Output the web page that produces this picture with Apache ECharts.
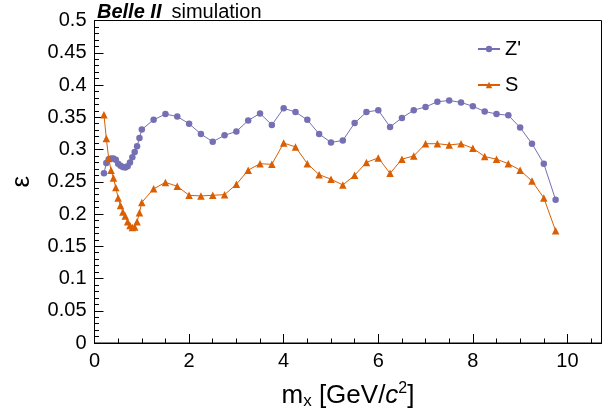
<!DOCTYPE html>
<html>
<head>
<meta charset="utf-8">
<script src="https://cdn.jsdelivr.net/npm/echarts@6/dist/echarts.min.js"></script>
<style>
html,body{margin:0;padding:0;background:#fff;}
#c{width:613px;height:415px;}
</style>
</head>
<body>
<div id="c"></div>
<script>
// Dark-photon / scalar mass points (GeV/c^2)
var masses = [0.2,0.25,0.3,0.35,0.4,0.45,0.5,0.55,0.6,0.65,0.7,0.75,0.8,0.85,0.9,0.95,1.0,
  1.25,1.5,1.75,2.0,2.25,2.5,2.75,3.0,3.25,3.5,3.75,4.0,4.25,4.5,4.75,5.0,5.25,5.5,5.75,
  6.0,6.25,6.5,6.75,7.0,7.25,7.5,7.75,8.0,8.25,8.5,8.75,9.0,9.25,9.5,9.75];
// efficiency for Z'
var effZp = [0.263,0.279,0.285,0.286,0.286,0.284,0.278,0.275,0.273,0.272,0.274,0.280,0.288,0.296,0.305,0.318,0.331,
  0.346,0.355,0.351,0.340,0.324,0.312,0.322,0.328,0.345,0.356,
  0.338,0.364,0.358,0.346,0.324,0.311,0.314,0.341,0.358,0.361,
  0.335,0.349,0.361,0.366,0.374,0.376,0.373,0.367,0.359,0.355,
  0.353,0.334,0.309,0.278,0.222];
// efficiency for S
var effS = [0.354,0.317,0.286,0.268,0.256,0.241,0.225,0.213,0.203,0.197,0.188,0.182,0.179,0.180,0.188,0.202,0.218,
  0.239,0.249,0.243,0.229,0.228,0.229,0.230,0.246,0.268,0.278,
  0.277,0.310,0.304,0.278,0.261,0.254,0.245,0.260,0.280,0.287,
  0.263,0.285,0.290,0.309,0.309,0.307,0.309,0.302,0.289,0.285,
  0.278,0.268,0.251,0.225,0.174];
var seriesNames = ["Z'", "S"];
var xMin = 0, xMax = 10.72, xMajor = 2, xMinor = 0.5;
var yMin = 0, yMax = 0.5, yMajor = 0.05;

var FONT = "'Liberation Sans', Arial, Helvetica, sans-serif";
var cZ = '#7570b3', cS = '#d95f02';

function pairs(xs, ys){ return xs.map(function(x,i){ return [x, ys[i]]; }); }

var chart = echarts.init(document.getElementById('c'), null, {renderer:'canvas'});
chart.setOption({
  animation: false,
  backgroundColor: '#fff',
  textStyle: {fontFamily: FONT, color:'#000'},
  title: {
    left: 92, top: -3,
    text: '{b|Belle II}  {n|simulation}',
    textStyle: {
      fontWeight: 'normal',
      rich: {
        b: {fontFamily: FONT, fontSize: 20, fontWeight: 'bold', fontStyle: 'italic', color:'#000'},
        n: {fontFamily: FONT, fontSize: 20, fontWeight: 'normal', color:'#000'}
      }
    }
  },
  grid: {left: 94.5, right: 11.5, top: 20.5, bottom: 71, show: true, borderColor: '#000', borderWidth: 1, backgroundColor: 'transparent'},
  legend: [
    {data: [seriesNames[0]], left: 472, top: 34, orient: 'vertical', itemWidth: 22, itemHeight: 8,
     textStyle: {fontFamily: FONT, fontSize: 20, color:'#000'}},
    {data: [seriesNames[1]], left: 472, top: 70, orient: 'vertical', itemWidth: 22, itemHeight: 8,
     textStyle: {fontFamily: FONT, fontSize: 20, color:'#000'}}
  ],
  xAxis: [
    {
      type: 'value', position: 'bottom', min: xMin, max: xMax, interval: xMajor,
      name: '{m|m}{s|x}{m| [GeV/}{i|c}{p|2}{m|]}',
      nameLocation: 'middle', nameGap: 38,
      nameTextStyle: {
        rich: {
          m: {fontFamily: FONT, fontSize: 26, color:'#000'},
          s: {fontFamily: FONT, fontSize: 17, color:'#000', verticalAlign:'bottom', padding:[12,0,0,0]},
          i: {fontFamily: FONT, fontSize: 26, fontStyle:'italic', color:'#000'},
          p: {fontFamily: FONT, fontSize: 16, color:'#000', verticalAlign:'top', padding:[0,0,10,0]}
        }
      },
      axisLine: {show: true, lineStyle: {color:'#000', width: 1}},
      axisTick: {show: true, inside: true, length: 9, lineStyle: {color:'#000'}},
      splitLine: {show: false},
      axisLabel: {
        fontFamily: FONT, fontSize: 20, color:'#000', margin: 8,
        formatter: function(v){ return (Math.abs(v/xMajor - Math.round(v/xMajor)) < 1e-6) ? String(Math.round(v)) : ''; }
      }
    },
    {
      type: 'value', position: 'bottom', min: xMin, max: xMax, interval: xMinor,
      axisLine: {show: false},
      axisTick: {show: true, inside: true, length: 4.5, lineStyle: {color:'#000'}},
      splitLine: {show: false},
      axisLabel: {show: false}
    }
  ],
  yAxis: {
    type: 'value', min: yMin, max: yMax, interval: yMajor,
    name: 'ε', nameLocation: 'middle', nameGap: 60, nameRotate: 90,
    nameTextStyle: {fontFamily: FONT, fontSize: 26, color:'#000'},
    axisLine: {show: true, lineStyle: {color:'#000', width: 1}},
    axisTick: {show: true, inside: true, length: 9, lineStyle: {color:'#000'}},
    minorTick: {show: true, splitNumber: 5, length: 4.5, lineStyle: {color:'#000'}},
    splitLine: {show: false},
    minorSplitLine: {show: false},
    axisLabel: {fontFamily: FONT, fontSize: 20, color:'#000', margin: 8}
  },
  series: [
    {
      name: seriesNames[0], type: 'line', xAxisIndex: 0, data: pairs(masses, effZp),
      symbol: 'circle', symbolSize: 6.5, color: cZ,
      lineStyle: {color: cZ, width: 1}, itemStyle: {color: cZ}
    },
    {
      name: seriesNames[1], type: 'line', xAxisIndex: 0, data: pairs(masses, effS),
      symbol: 'triangle', symbolSize: 7.5, color: cS,
      lineStyle: {color: cS, width: 1}, itemStyle: {color: cS}
    }
  ]
});
</script>
</body>
</html>
